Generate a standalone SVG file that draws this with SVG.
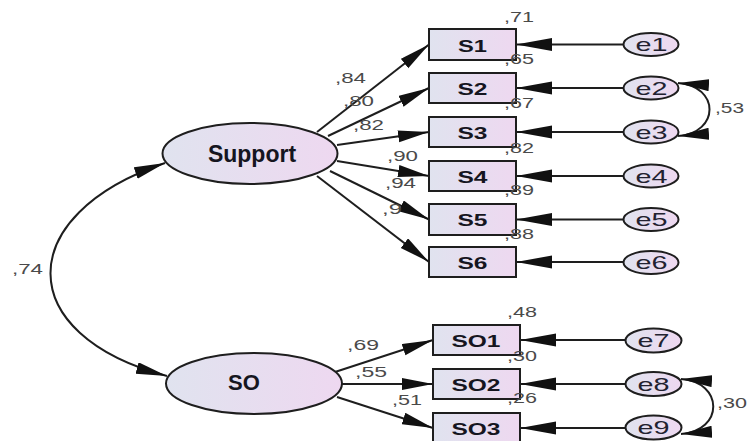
<svg xmlns="http://www.w3.org/2000/svg" width="749" height="441" viewBox="0 0 749 441">
<style>
.sh{stroke:#1e1e1e;stroke-width:2}
.ln{stroke:#1e1e1e;stroke-width:2;fill:none}
.lat{font-family:"Liberation Sans",Arial,sans-serif;font-weight:bold;fill:#151520;text-anchor:middle}
.obs{font-family:"Liberation Sans",Arial,sans-serif;font-weight:bold;font-size:16.5px;fill:#151520;text-anchor:middle}
.err{font-family:"Liberation Sans",Arial,sans-serif;font-size:19px;fill:#222230;text-anchor:middle}
.co{font-family:"Liberation Sans",Arial,sans-serif;font-size:14px;fill:#4a4a4a}
</style>
<defs>
<linearGradient id="g" x1="0" y1="0" x2="1" y2="0">
<stop offset="0" stop-color="#e0e3ef"/>
<stop offset="1" stop-color="#eed8f0"/>
</linearGradient>
<marker id="a" markerUnits="userSpaceOnUse" markerWidth="32" markerHeight="13" refX="31" refY="6" orient="auto">
<path d="M0,0 L31,6 L0,12 z" fill="#111"/>
</marker>
<marker id="ae" markerUnits="userSpaceOnUse" markerWidth="37" markerHeight="14" refX="36" refY="6.5" orient="auto">
<path d="M0,0 L36,6.5 L0,13 z" fill="#111"/>
</marker>
<marker id="ac" markerUnits="userSpaceOnUse" markerWidth="32" markerHeight="13" refX="31" refY="6" orient="auto-start-reverse">
<path d="M0,0 L31,6 L0,12 z" fill="#111"/>
</marker>
</defs>
<rect width="749" height="441" fill="#fff"/>

<g id="connectors">
<line class="ln" x1="317" y1="132" x2="429" y2="44.5" marker-end="url(#a)"/>
<line class="ln" x1="328" y1="136" x2="429" y2="88" marker-end="url(#a)"/>
<line class="ln" x1="337" y1="145" x2="429" y2="132" marker-end="url(#a)"/>
<line class="ln" x1="337" y1="161" x2="429" y2="176" marker-end="url(#a)"/>
<line class="ln" x1="330" y1="171" x2="429" y2="219.5" marker-end="url(#a)"/>
<line class="ln" x1="317" y1="176" x2="429" y2="262" marker-end="url(#a)"/>
<line class="ln" x1="335" y1="372" x2="433" y2="340" marker-end="url(#a)"/>
<line class="ln" x1="342" y1="384" x2="433" y2="384" marker-end="url(#a)"/>
<line class="ln" x1="337" y1="397" x2="433" y2="428" marker-end="url(#a)"/>
<line class="ln" x1="623" y1="44.5" x2="516" y2="44.5" marker-end="url(#ae)"/>
<line class="ln" x1="623" y1="88" x2="516" y2="88" marker-end="url(#ae)"/>
<line class="ln" x1="623" y1="132" x2="516" y2="132" marker-end="url(#ae)"/>
<line class="ln" x1="623" y1="176" x2="516" y2="176" marker-end="url(#ae)"/>
<line class="ln" x1="623" y1="219.5" x2="516" y2="219.5" marker-end="url(#ae)"/>
<line class="ln" x1="623" y1="262" x2="516" y2="262" marker-end="url(#ae)"/>
<line class="ln" x1="625" y1="340" x2="520" y2="340" marker-end="url(#ae)"/>
<line class="ln" x1="625" y1="384" x2="520" y2="384" marker-end="url(#ae)"/>
<line class="ln" x1="625" y1="428" x2="520" y2="428" marker-end="url(#ae)"/>
<path class="ln" d="M165,163 C12,215 12,335 167,376" marker-start="url(#ac)" marker-end="url(#ac)"/>
<path class="ln" d="M678,83 C720,86 720,133 678,136" marker-start="url(#ac)" marker-end="url(#ac)"/>
<path class="ln" d="M681,379 C724,382 724,431 681,434" marker-start="url(#ac)" marker-end="url(#ac)"/>
</g>

<g id="Support">
<ellipse class="sh" cx="250" cy="153.5" rx="87.5" ry="30.5" fill="url(#g)"/>
<text class="lat" x="252" y="162" font-size="23">Support</text>
</g>
<g id="SO">
<ellipse class="sh" cx="254" cy="383.5" rx="88" ry="30.5" fill="url(#g)"/>
<text class="lat" x="244" y="390" font-size="22">SO</text>
</g>

<g id="S1"><rect class="sh" x="429" y="29" width="87" height="31" fill="url(#g)"/><text class="obs" x="472.5" y="51.5" textLength="29" lengthAdjust="spacingAndGlyphs">S1</text></g>
<g id="S2"><rect class="sh" x="429" y="73" width="87" height="30" fill="url(#g)"/><text class="obs" x="472.5" y="94.5" textLength="30" lengthAdjust="spacingAndGlyphs">S2</text></g>
<g id="S3"><rect class="sh" x="429" y="117" width="87" height="30" fill="url(#g)"/><text class="obs" x="472.5" y="138.5" textLength="30" lengthAdjust="spacingAndGlyphs">S3</text></g>
<g id="S4"><rect class="sh" x="429" y="161" width="87" height="30" fill="url(#g)"/><text class="obs" x="472.5" y="182.5" textLength="30" lengthAdjust="spacingAndGlyphs">S4</text></g>
<g id="S5"><rect class="sh" x="429" y="204" width="87" height="31" fill="url(#g)"/><text class="obs" x="472.5" y="226" textLength="30" lengthAdjust="spacingAndGlyphs">S5</text></g>
<g id="S6"><rect class="sh" x="429" y="247" width="87" height="30" fill="url(#g)"/><text class="obs" x="472.5" y="268.5" textLength="30" lengthAdjust="spacingAndGlyphs">S6</text></g>
<g id="SO1"><rect class="sh" x="433" y="325" width="87" height="30" fill="url(#g)"/><text class="obs" x="476" y="346.5" textLength="49" lengthAdjust="spacingAndGlyphs">SO1</text></g>
<g id="SO2"><rect class="sh" x="433" y="369" width="87" height="30" fill="url(#g)"/><text class="obs" x="476" y="390.5" textLength="49" lengthAdjust="spacingAndGlyphs">SO2</text></g>
<g id="SO3"><rect class="sh" x="433" y="413" width="87" height="30" fill="url(#g)"/><text class="obs" x="476" y="434.5" textLength="49" lengthAdjust="spacingAndGlyphs">SO3</text></g>

<g id="e1"><ellipse class="sh" cx="651" cy="44.5" rx="27.5" ry="11.5" fill="url(#g)"/><text class="err" x="651.5" y="51" textLength="32" lengthAdjust="spacingAndGlyphs">e1</text></g>
<g id="e2"><ellipse class="sh" cx="651" cy="88" rx="27.5" ry="11.5" fill="url(#g)"/><text class="err" x="651.5" y="94.5" textLength="32" lengthAdjust="spacingAndGlyphs">e2</text></g>
<g id="e3"><ellipse class="sh" cx="651" cy="132" rx="27.5" ry="11.5" fill="url(#g)"/><text class="err" x="651.5" y="138.5" textLength="32" lengthAdjust="spacingAndGlyphs">e3</text></g>
<g id="e4"><ellipse class="sh" cx="651" cy="176" rx="27.5" ry="11.5" fill="url(#g)"/><text class="err" x="651.5" y="182.5" textLength="32" lengthAdjust="spacingAndGlyphs">e4</text></g>
<g id="e5"><ellipse class="sh" cx="651" cy="219.5" rx="27.5" ry="11.5" fill="url(#g)"/><text class="err" x="651.5" y="226" textLength="32" lengthAdjust="spacingAndGlyphs">e5</text></g>
<g id="e6"><ellipse class="sh" cx="651" cy="262.5" rx="27.5" ry="11.5" fill="url(#g)"/><text class="err" x="651.5" y="269" textLength="32" lengthAdjust="spacingAndGlyphs">e6</text></g>
<g id="e7"><ellipse class="sh" cx="653.5" cy="340.5" rx="28" ry="12" fill="url(#g)"/><text class="err" x="653.5" y="347" textLength="32" lengthAdjust="spacingAndGlyphs">e7</text></g>
<g id="e8"><ellipse class="sh" cx="653.5" cy="384" rx="28" ry="12" fill="url(#g)"/><text class="err" x="653.5" y="390.5" textLength="32" lengthAdjust="spacingAndGlyphs">e8</text></g>
<g id="e9"><ellipse class="sh" cx="653.5" cy="427.5" rx="28" ry="12" fill="url(#g)"/><text class="err" x="653.5" y="434" textLength="32" lengthAdjust="spacingAndGlyphs">e9</text></g>

<g id="labels">
<text class="co" x="504" y="22" textLength="30" lengthAdjust="spacingAndGlyphs">,71</text>
<text class="co" x="504" y="64" textLength="30" lengthAdjust="spacingAndGlyphs">,65</text>
<text class="co" x="504" y="108" textLength="30" lengthAdjust="spacingAndGlyphs">,67</text>
<text class="co" x="504" y="153" textLength="30" lengthAdjust="spacingAndGlyphs">,82</text>
<text class="co" x="504" y="195" textLength="30" lengthAdjust="spacingAndGlyphs">,89</text>
<text class="co" x="504" y="239" textLength="30" lengthAdjust="spacingAndGlyphs">,88</text>
<text class="co" x="335" y="83" textLength="31" lengthAdjust="spacingAndGlyphs">,84</text>
<text class="co" x="343" y="106" textLength="31" lengthAdjust="spacingAndGlyphs">,80</text>
<text class="co" x="353" y="130" textLength="31" lengthAdjust="spacingAndGlyphs">,82</text>
<text class="co" x="387" y="161" textLength="31" lengthAdjust="spacingAndGlyphs">,90</text>
<text class="co" x="385" y="188" textLength="31" lengthAdjust="spacingAndGlyphs">,94</text>
<text class="co" x="382" y="214" textLength="20" lengthAdjust="spacingAndGlyphs">,9</text>
<text class="co" x="507" y="317" textLength="30" lengthAdjust="spacingAndGlyphs">,48</text>
<text class="co" x="507" y="361" textLength="30" lengthAdjust="spacingAndGlyphs">,30</text>
<text class="co" x="507" y="403" textLength="30" lengthAdjust="spacingAndGlyphs">,26</text>
<text class="co" x="347" y="350" textLength="32" lengthAdjust="spacingAndGlyphs">,69</text>
<text class="co" x="355" y="377" textLength="32" lengthAdjust="spacingAndGlyphs">,55</text>
<text class="co" x="392" y="405" textLength="30" lengthAdjust="spacingAndGlyphs">,51</text>
<text class="co" x="12" y="274" textLength="31" lengthAdjust="spacingAndGlyphs">,74</text>
<text class="co" x="715" y="113" textLength="29" lengthAdjust="spacingAndGlyphs">,53</text>
<text class="co" x="717" y="408" textLength="30" lengthAdjust="spacingAndGlyphs">,30</text>
</g>
</svg>
